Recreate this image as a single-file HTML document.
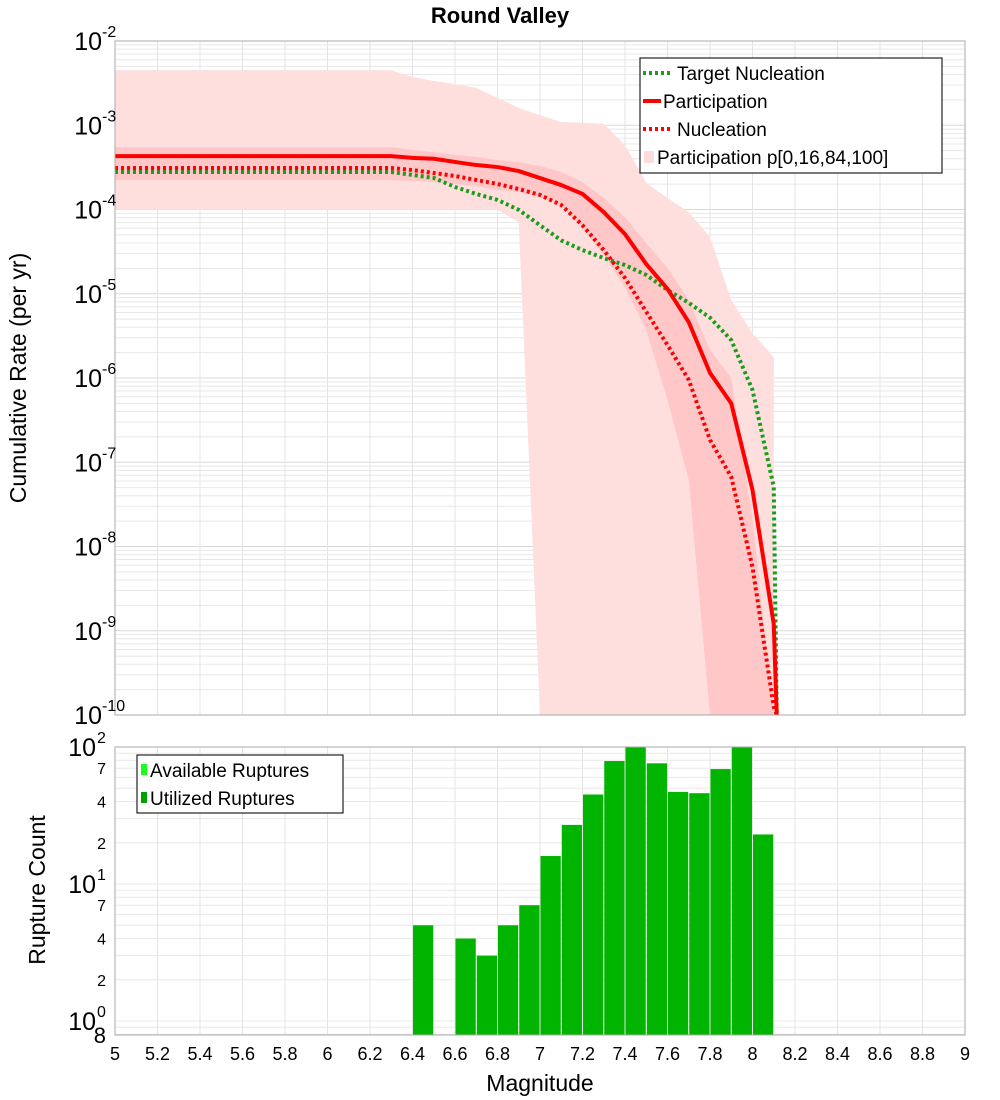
<!DOCTYPE html>
<html><head><meta charset="utf-8"><style>
body{margin:0;background:#fff;}
svg{display:block;font-family:"Liberation Sans",sans-serif;}
</style></head><body>
<svg id="chart" width="1000" height="1100" viewBox="0 0 1000 1100" xmlns="http://www.w3.org/2000/svg">
<text x="500" y="23" text-anchor="middle" font-size="22" font-weight="bold">Round Valley</text>
<g id="top-grid"></g>
<g id="bands"></g>
<g id="lines"></g>
<rect x="115" y="41" width="850" height="674" fill="none" stroke="#aaa" stroke-width="1"/>
<g id="top-yticks"></g>
<text transform="translate(26,378) rotate(-90)" text-anchor="middle" font-size="23">Cumulative Rate (per yr)</text>
<g>
<rect x="640" y="58" width="302" height="115" fill="#fff" stroke="#222" stroke-width="1.2"/>
<line x1="643" y1="73" x2="672" y2="73" stroke="#1a9e1a" stroke-width="4" stroke-dasharray="3,3"/>
<text x="677" y="80" font-size="19">Target Nucleation</text>
<line x1="643" y1="101" x2="661" y2="101" stroke="#f00" stroke-width="4"/>
<text x="663" y="108" font-size="19">Participation</text>
<line x1="643" y1="129" x2="672" y2="129" stroke="#f00" stroke-width="4" stroke-dasharray="3,3"/>
<text x="677" y="136" font-size="19">Nucleation</text>
<rect x="644" y="151" width="10" height="12" fill="#ffdcdc"/>
<text x="657" y="164" font-size="19">Participation p[0,16,84,100]</text>
</g>
<g id="bot-grid"></g>
<g id="bars"></g>
<rect x="115" y="747" width="850" height="288" fill="none" stroke="#aaa" stroke-width="1"/>
<g id="bot-yticks"></g>
<g id="xticks"></g>
<text transform="translate(45,890) rotate(-90)" text-anchor="middle" font-size="23">Rupture Count</text>
<text x="540" y="1091" text-anchor="middle" font-size="23">Magnitude</text>
<g>
<rect x="137" y="755" width="206" height="58" fill="#fff" stroke="#222" stroke-width="1.2"/>
<rect x="141" y="764" width="6" height="11" fill="#1aff1a"/>
<text x="150" y="777" font-size="19">Available Ruptures</text>
<rect x="141" y="792" width="6" height="11" fill="#00a000"/>
<text x="150" y="805" font-size="19">Utilized Ruptures</text>
</g>
</svg>
<script>
const mags = [5.0,6.3,6.4,6.5,6.6,6.7,6.8,6.9,7.0,7.1,7.2,7.3,7.4,7.5,7.6,7.7,7.8,7.9,8.0,8.1];
const participation = [4.3e-4,4.3e-4,4.1e-4,4.0e-4,3.67e-4,3.37e-4,3.19e-4,2.86e-4,2.36e-4,1.95e-4,1.53e-4,9.3e-5,5.1e-5,2.25e-5,1.14e-5,4.6e-6,1.15e-6,5.0e-7,4.7e-8,1.2e-9];
const nucleation = [3.11e-4,3.11e-4,2.94e-4,2.71e-4,2.50e-4,2.24e-4,2.01e-4,1.75e-4,1.49e-4,1.13e-4,6.5e-5,3.3e-5,1.54e-5,6.1e-6,2.46e-6,9.5e-7,1.84e-7,6.7e-8,5.7e-9,1.25e-10];
const targetNucleation = [2.79e-4,2.79e-4,2.57e-4,2.37e-4,1.85e-4,1.53e-4,1.30e-4,9.9e-5,6.5e-5,4.3e-5,3.3e-5,2.65e-5,2.19e-5,1.67e-5,1.11e-5,7.8e-6,5.2e-6,2.82e-6,7.2e-7,5.1e-8];
const p100 = [4.5e-3,4.5e-3,3.74e-3,3.35e-3,3.09e-3,2.77e-3,2.11e-3,1.60e-3,1.32e-3,1.09e-3,1.07e-3,1.04e-3,5.8e-4,2.07e-4,1.37e-4,9.3e-5,4.7e-5,8.4e-6,3.4e-6,1.77e-6];
const p0 = [9.9e-5,9.9e-5,9.9e-5,9.9e-5,9.9e-5,9.9e-5,9.9e-5,7.1e-5,0,0,0,0,0,0,0,0,0,0,0,0];
const p84 = [5.5e-4,5.5e-4,5.1e-4,4.8e-4,4.43e-4,4.2e-4,3.87e-4,3.66e-4,3.28e-4,2.79e-4,2.12e-4,1.37e-4,8.1e-5,4.0e-5,2.02e-5,8.4e-6,2.15e-6,1.0e-6,2.07e-8,0];
const p16 = [2.24e-4,2.24e-4,2.18e-4,2.12e-4,2.01e-4,1.90e-4,1.70e-4,1.61e-4,1.41e-4,1.13e-4,6.0e-5,2.88e-5,1.20e-5,3.7e-6,5.5e-7,6.2e-8,0,0,0,0];
const barMags = [6.4,6.5,6.6,6.7,6.8,6.9,7.0,7.1,7.2,7.3,7.4,7.5,7.6,7.7,7.8,7.9,8.0];
const barCounts = [5,0,4,3,5,7,16,27,45,79,100,76,47,46,69,100,23];
const xTickLabels = ["5","5.2","5.4","5.6","5.8","6","6.2","6.4","6.6","6.8","7","7.2","7.4","7.6","7.8","8","8.2","8.4","8.6","8.8","9"];
const topExps = [-2,-3,-4,-5,-6,-7,-8,-9,-10];
const botExps = [2,1,0];
const botMinor = [7,4,2];

const NS="http://www.w3.org/2000/svg";
const X0=115,X1=965,TY0=41,TY1=715,BY0=747,BY1=1035;
const xS=m=>X0+(m-5)/4*(X1-X0);
const yT=v=>{if(v<=0)return TY1;const y=TY0+(-2-Math.log10(v))*(TY1-TY0)/8;return Math.min(y,TY1);};
const BD=137;
const yB=v=>{if(v<=0)return BY1;return Math.min(BY1,BY0+(2-Math.log10(v))*BD);};
function mk(tag,attrs,parent){const e=document.createElementNS(NS,tag);for(const k in attrs)e.setAttribute(k,attrs[k]);parent.appendChild(e);return e;}
const g=id=>document.getElementById(id);

// top grid
const tg=g('top-grid');
for(let d=-10;d<-2;d++){for(let k=1;k<10;k++){const y=yT(k*Math.pow(10,d));if(y<=TY0||y>=TY1)continue;
const l=mk('line',{x1:X0,x2:X1,y1:y,y2:y,stroke:k==1?'#d8d8d8':'#e8e8e8','stroke-width':1},tg);

}}
xTickLabels.forEach((t,i)=>{const x=xS(parseFloat(t));
const l=mk('line',{x1:x,x2:x,y1:TY0,y2:TY1,stroke:'#e4e4e4','stroke-width':1},tg);


const l2=mk('line',{x1:x,x2:x,y1:BY0,y2:BY1,stroke:'#e4e4e4','stroke-width':1},g('bot-grid'));

});

// bands
function band(up,lo,fill,name){let pts=mags.map((m,i)=>xS(m)+','+yT(up[i]));
for(let i=mags.length-1;i>=0;i--)pts.push(xS(mags[i])+','+yT(lo[i]));
const p=mk('polygon',{points:pts.join(' '),fill:fill},g('bands'));

}
band(p100,p0,'rgb(255,222,222)','band-p0-p100');
band(p84,p16,'rgba(255,120,120,0.22)','band-p16-p84');

// lines
function line(vals,color,dash,name){const pts=mags.map((m,i)=>xS(m)+','+yT(vals[i]));
pts.push((xS(mags[mags.length-1])+3)+','+TY1);
const a={points:pts.join(' '),fill:'none',stroke:color,'stroke-width':4,'stroke-linejoin':'round'};
if(dash)a['stroke-dasharray']=dash;
const p=mk('polyline',a,g('lines'));

}
line(targetNucleation,'#1a9e1a','3,3','target-nucleation-line');
line(nucleation,'#ff0000','3,3','nucleation-line');
line(participation,'#ff0000',null,'participation-line');

// top y ticks
topExps.forEach(e=>{const y=yT(Math.pow(10,e));
const t=mk('text',{x:102,y:y+9,'text-anchor':'end','font-size':25},g('top-yticks'));t.textContent='10';


const s=mk('text',{x:102,y:y-4,'font-size':16},g('top-yticks'));s.textContent=String(e);

});

// bottom grid + ticks
const bg=g('bot-grid');
for(let d=-1;d<2;d++){for(let k=1;k<10;k++){const y=yB(k*Math.pow(10,d));if(y<=BY0||y>=BY1)continue;
const l=mk('line',{x1:X0,x2:X1,y1:y,y2:y,stroke:'#e8e8e8','stroke-width':1},bg);

}}
botExps.forEach(e=>{const y=yB(Math.pow(10,e));
const t=mk('text',{x:96,y:y+9,'text-anchor':'end','font-size':25},g('bot-yticks'));t.textContent='10';


const s=mk('text',{x:97,y:y-4,'font-size':16},g('bot-yticks'));s.textContent=String(e);


if(e>0)botMinor.forEach(k=>{const yy=yB(k*Math.pow(10,e-1));
const m=mk('text',{x:106,y:yy+6,'text-anchor':'end','font-size':16},g('bot-yticks'));m.textContent=String(k);

});});
const eight=mk('text',{x:106,y:1043,'text-anchor':'end','font-size':22},g('bot-yticks'));eight.textContent='8';



// bars
barMags.forEach((m,i)=>{if(barCounts[i]<=0)return;const x=xS(m),w=xS(m+0.1)-x;const y=yB(barCounts[i]);
const r=mk('rect',{x:x+0.5,y:y,width:w-1,height:BY1-y,fill:'#00b400'},g('bars'));

});

// x ticks
xTickLabels.forEach(t=>{const x=xS(parseFloat(t));
const e=mk('text',{x:x,y:1060,'text-anchor':'middle','font-size':18},g('xticks'));e.textContent=t;

});
</script>
</body></html>
